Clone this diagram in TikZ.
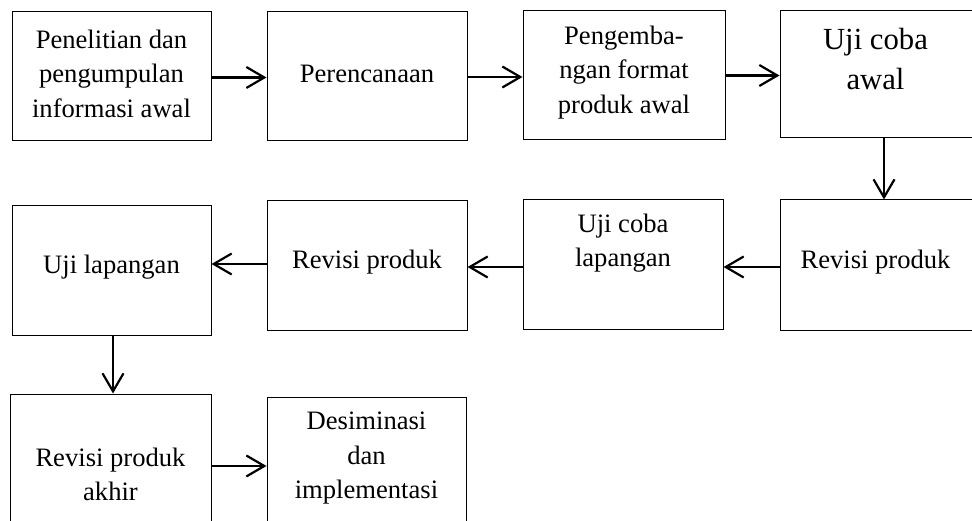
\documentclass[tikz,border=0pt]{standalone}
\usepackage{fontspec}
\setmainfont{Liberation Serif}
\usetikzlibrary{arrows.meta}
\tikzset{
  stepbox/.style={draw=black, line width=1pt, rectangle, inner sep=0pt},
  txt/.style={align=center, inner sep=0pt, font=\fontsize{26.6}{34.5}\selectfont},
  bigtxt/.style={align=center, inner sep=0pt, font=\fontsize{30.7}{40}\selectfont},
  conn/.style={line width=2.2pt, -{Straight Barb[length=18pt,width=21pt,line width=2.2pt]}}
}
\begin{document}
\begin{tikzpicture}[x=1pt,y=-1pt]
\useasboundingbox (0,0) rectangle (972,521);
\clip (0,0) rectangle (972,521);
\fill[white] (0,0) rectangle (972,521);
% boxes
\node[stepbox, minimum width=199pt, minimum height=129pt] (b1) at (111.5,76.5) {};
\node[stepbox, minimum width=200pt, minimum height=129pt] (b2) at (367,76.5) {};
\node[stepbox, minimum width=202pt, minimum height=129pt] (b3) at (624,75.5) {};
\node[stepbox, minimum width=200pt, minimum height=127pt] (b4) at (880,74.5) {};
\node[stepbox, minimum width=200pt, minimum height=131pt] (b5) at (880,265.5) {};
\node[stepbox, minimum width=200pt, minimum height=130pt] (b6) at (623,265) {};
\node[stepbox, minimum width=200pt, minimum height=130pt] (b7) at (367,266) {};
\node[stepbox, minimum width=199pt, minimum height=130pt] (b8) at (111.5,271) {};
\node[stepbox, minimum width=201pt, minimum height=140pt] (b9) at (110.5,464) {};
\node[stepbox, minimum width=199pt, minimum height=140pt] (b10) at (366.5,467) {};
% texts
\node[txt] (t1) at (111.5,73.5) {Penelitian dan\\pengumpulan\\informasi awal};
\node[txt] (t2) at (367,74) {Perencanaan};
\node[txt] (t3) at (624,72.5) {Pengemba-\\ngan format\\produk awal};
\node[bigtxt] (t4) at (875.5,59.5) {Uji coba\\awal};
\node[txt] (t5) at (875.5,262) {Revisi produk};
\node[txt] (t6) at (623,243) {Uji coba\\lapangan};
\node[txt] (t7) at (367,262) {Revisi produk};
\node[txt] (t8) at (111.5,267) {Uji lapangan};
\node[txt] (t9) at (110.5,474.5) {Revisi produk\\akhir};
\node[txt] (t10) at (366.5,458.5) {Desiminasi\\dan\\implementasi};
% connectors
\draw[conn] ([yshift=-1pt]b1.east) -- ([yshift=-1pt]b1.east -| b2.west);
\draw[conn] ([yshift=-0.5pt]b2.east) -- ([yshift=-0.5pt]b2.east -| b3.west);
\draw[conn] (b3.east) -- (b3.east -| b4.west);
\draw[conn] ([xshift=4pt]b4.south) -- ([xshift=4pt]b4.south |- b5.north);
\draw[conn] ([yshift=-1.5pt]b5.west) -- ([yshift=-1.5pt]b5.west -| b6.east);
\draw[conn] ([yshift=-2pt]b6.west) -- ([yshift=-2pt]b6.west -| b7.east);
\draw[conn] ([yshift=2pt]b7.west) -- ([yshift=2pt]b7.west -| b8.east);
\draw[conn] ([xshift=1.5pt]b8.south) -- ([xshift=1.5pt]b8.south |- b9.north);
\draw[conn] ([yshift=-2pt]b9.east) -- ([yshift=-2pt]b9.east -| b10.west);
\end{tikzpicture}
\end{document}
